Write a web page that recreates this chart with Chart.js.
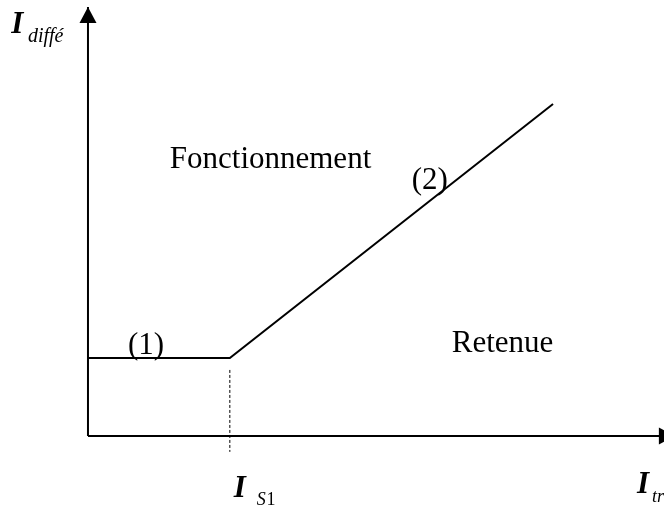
<!DOCTYPE html>
<html>
<head>
<meta charset="utf-8">
<script src="https://cdn.jsdelivr.net/npm/chart.js@4/dist/chart.umd.min.js"></script>
<style>
html,body{margin:0;padding:0;background:#fff;}
canvas{display:block;}
</style>
</head>
<body>
<canvas id="c" width="664" height="508"></canvas>
<script>
// ---- data (conceptual units) ----
const charX = [0, 24.8, 81.3];          // I_tr values of the characteristic
const charY = [18.2, 18.2, 77.4];       // I_diffé values of the characteristic
const IS1 = 24.8;                       // threshold I_S1
const dashY = [15.4, -3.7];             // extent of the dotted marker at I_S1
const axisXEnd = 102.6;                 // length of I_tr axis
const axisYEnd = 100;                   // length of I_diffé axis
const regionLabels = ['Fonctionnement', 'Retenue'];
const segmentLabels = ['(1)', '(2)'];
const axisNames = [['I', 'diffé'], ['I', 'S', '1'], ['I', 'tr']];

const SERIF = '"Liberation Serif", "Times New Roman", serif';

const charData = charX.map((x, i) => ({x, y: charY[i]}));
const dashData = dashY.map(y => ({x: IS1, y}));
const xAxisData = [{x: 0, y: 0}, {x: axisXEnd, y: 0}];
const yAxisData = [{x: 0, y: 0}, {x: 0, y: axisYEnd}];

const textItems = [
  {t: regionLabels[0], x: 14.3, y: 62.5, font: '31px ' + SERIF},
  {t: regionLabels[1], x: 63.6, y: 19.6, font: '31px ' + SERIF},
  {t: segmentLabels[0], x: 7.0, y: 19.1, font: '31px ' + SERIF},
  {t: segmentLabels[1], x: 56.6, y: 57.6, font: '31px ' + SERIF},
  {t: axisNames[0][0], x: -13.4, y: 93.9, font: 'italic bold 31px ' + SERIF},
  {t: axisNames[0][1], x: -10.5, y: 91.8, font: 'italic 20px ' + SERIF},
  {t: axisNames[1][0], x: 25.5, y: -14.2, font: 'italic bold 31px ' + SERIF},
  {t: axisNames[1][1], x: 29.5, y: -16.1, font: 'italic 18px ' + SERIF},
  {t: axisNames[1][2], x: 31.2, y: -16.1, font: '18px ' + SERIF},
  {t: axisNames[2][0], x: 96.0, y: -13.3, font: 'italic bold 31px ' + SERIF},
  {t: axisNames[2][1], x: 98.6, y: -15.4, font: 'italic 18px ' + SERIF}
];

const decor = {
  id: 'decor',
  afterDatasetsDraw(chart) {
    const ctx = chart.ctx;
    const xs = chart.scales.x, ys = chart.scales.y;
    ctx.save();
    ctx.fillStyle = '#000';
    const arrow = (p0, p1) => {
      const x0 = xs.getPixelForValue(p0.x), y0 = ys.getPixelForValue(p0.y);
      const x1 = xs.getPixelForValue(p1.x), y1 = ys.getPixelForValue(p1.y);
      const a = Math.atan2(y1 - y0, x1 - x0);
      const L = 16, W = 8.5;
      ctx.beginPath();
      ctx.moveTo(x1, y1);
      ctx.lineTo(x1 - L * Math.cos(a) - W * Math.sin(a), y1 - L * Math.sin(a) + W * Math.cos(a));
      ctx.lineTo(x1 - L * Math.cos(a) + W * Math.sin(a), y1 - L * Math.sin(a) - W * Math.cos(a));
      ctx.closePath();
      ctx.fill();
    };
    arrow(xAxisData[0], xAxisData[1]);
    arrow(yAxisData[0], yAxisData[1]);
    ctx.textAlign = 'left';
    ctx.textBaseline = 'alphabetic';
    textItems.forEach(it => {
      ctx.font = it.font;
      ctx.fillText(it.t, xs.getPixelForValue(it.x), ys.getPixelForValue(it.y));
    });
    ctx.restore();
  }
};

new Chart(document.getElementById('c'), {
  type: 'scatter',
  data: {
    datasets: [
      {data: charData, showLine: true, borderColor: '#000', borderWidth: 2, pointRadius: 0, tension: 0},
      {data: dashData, showLine: true, borderColor: '#000', borderWidth: 1, borderDash: [3, 2], pointRadius: 0},
      {data: xAxisData, showLine: true, borderColor: '#000', borderWidth: 2, pointRadius: 0},
      {data: yAxisData, showLine: true, borderColor: '#000', borderWidth: 2, pointRadius: 0}
    ]
  },
  options: {
    responsive: false,
    animation: false,
    layout: {padding: 0},
    plugins: {legend: {display: false}, tooltip: {enabled: false}},
    scales: {
      x: {type: 'linear', display: false, min: -15.38, max: 100.7},
      y: {type: 'linear', display: false, min: -16.78, max: 101.63}
    }
  },
  plugins: [decor]
});
</script>
</body>
</html>
